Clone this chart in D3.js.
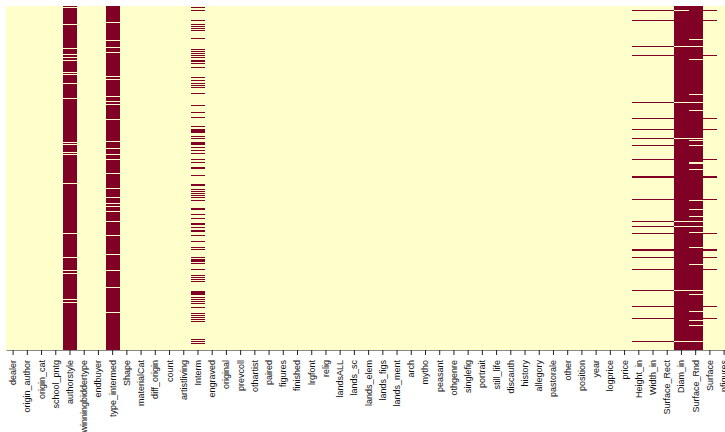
<!DOCTYPE html>
<html>
<head>
<meta charset="utf-8">
<script src="https://cdn.jsdelivr.net/npm/d3@7"></script>
<style>
  html, body { margin: 0; padding: 0; background: #ffffff; }
  svg { display: block; }
</style>
</head>
<body>
<svg id="chart" width="725" height="432"></svg>
<script>
// ---- data ----
const columns = ["dealer","origin_author","origin_cat","school_pntg","authorstyle","winningbiddertype",
  "endbuyer","type_intermed","Shape","materialCat","diff_origin","count","artistliving","Interm",
  "engraved","original","prevcoll","othartist","paired","figures","finished","lrgfont","relig",
  "landsALL","lands_sc","lands_elem","lands_figs","lands_ment","arch","mytho","peasant","othgenre",
  "singlefig","portrait","still_life","discauth","history","allegory","pastorale","other","position",
  "year","logprice","price","Height_in","Width_in","Surface_Rect","Diam_in","Surface_Rnd","Surface","nfigures"];

const nRows = 344;

// rows where the mostly-missing columns are present
const authorstylePresent = [1, 18, 42, 48, 51, 54, 66, 68, 77, 92, 136, 138, 146, 148, 177, 227, 251, 264, 267, 293, 296];
const typeIntermedPresent = [16, 34, 41, 46, 70, 73, 90, 95, 98, 113, 135, 142, 148, 153, 167, 182, 191, 197, 200, 205, 215, 229, 248, 264, 281, 306];
const diamPresent = [4, 40, 96, 132, 215, 220, 284, 335];
const rndPresent = [33, 40, 53, 88, 96, 104, 132, 134, 139, 156, 157, 163, 194, 203, 210, 215, 220, 226, 241, 258, 284, 288, 305, 314, 319, 335];

// rows where the mostly-present columns are missing
const intermMissing = [1, 4, 14, 18, 20, 22, 24, 32, 43, 45, 47, 49, 51, 54, 55, 57, 61, 71, 74, 77, 79, 81, 87, 99, 106, 111,
  120, 123, 124, 125, 126, 130, 132, 136, 137, 138, 141, 144, 147, 153, 156, 161, 162, 169, 178, 179, 183, 185, 187, 189, 191, 194,
  202, 203, 208, 212, 217, 218, 221, 224, 225, 229, 235, 241, 243, 251, 253, 254, 255, 257, 263, 269, 271, 273, 275,
  285, 286, 287, 288, 291, 293, 295, 297, 301, 307, 309, 311, 313, 315, 333, 335, 337];
const dimsMissing = [4, 14, 40, 49, 96, 112, 123, 132, 139, 153, 170, 171, 193, 215, 220, 227, 243, 244, 251, 263, 284, 300, 312, 335];
const surfaceMissing = [4, 14, 49, 112, 123, 153, 170, 171, 193, 227, 243, 244, 251, 263, 300, 312];

// ---- build missing-row lists per column ----
const allRows = d3.range(nRows);
const fromPresent = present => { const s = new Set(present); return allRows.filter(r => !s.has(r)); };
const missingByColumn = {
  authorstyle: fromPresent(authorstylePresent),
  type_intermed: fromPresent(typeIntermedPresent),
  Interm: intermMissing,
  Height_in: dimsMissing,
  Width_in: dimsMissing,
  Surface_Rect: dimsMissing,
  Diam_in: fromPresent(diamPresent),
  Surface_Rnd: fromPresent(rndPresent),
  Surface: surfaceMissing
};

// consecutive runs -> cells
const cells = [];
columns.forEach(col => {
  const rows = (missingByColumn[col] || []).slice().sort((a, b) => a - b);
  let start = null, prev = null;
  rows.forEach(r => {
    if (start === null) { start = r; prev = r; }
    else if (r === prev + 1) { prev = r; }
    else { cells.push({ col, start, end: prev + 1 }); start = r; prev = r; }
  });
  if (start !== null) cells.push({ col, start, end: prev + 1 });
});

// ---- drawing ----
const svg = d3.select("#chart");
const plotLeft = 6, plotTop = 6, plotBottom = 350;
const colW = 14.22;

const x = d3.scaleBand().domain(columns).range([plotLeft, plotLeft + colW * columns.length]).padding(0);
const y = d3.scaleLinear().domain([0, nRows]).range([plotTop, plotBottom]);
const color = d3.scaleOrdinal().domain([0, 1]).range(["#ffffcc", "#800026"]);

svg.append("rect")
  .attr("x", x.range()[0]).attr("y", y(0))
  .attr("width", x.range()[1] - x.range()[0]).attr("height", y(nRows) - y(0))
  .attr("fill", color(0));

svg.append("g").attr("shape-rendering", "crispEdges")
  .selectAll("rect").data(cells).join("rect")
  .attr("x", d => x(d.col))
  .attr("y", d => y(d.start))
  .attr("width", x.bandwidth())
  .attr("height", d => y(d.end) - y(d.start))
  .attr("fill", color(1));

const axis = svg.append("g")
  .attr("transform", `translate(0,${plotBottom})`)
  .call(d3.axisBottom(x).tickSize(5).tickSizeOuter(0).tickPadding(4));

axis.select(".domain").attr("stroke", "#888").attr("stroke-width", 1);
axis.selectAll(".tick line").attr("stroke", "#222").attr("stroke-width", 1);
axis.selectAll(".tick text")
  .attr("font-family", "'Liberation Sans', Arial, sans-serif")
  .attr("font-size", "9px")
  .attr("fill", "#111")
  .attr("transform", "rotate(-90)")
  .attr("text-anchor", "end")
  .attr("x", -10)
  .attr("y", 0)
  .attr("dy", "0.33em");
</script>
</body>
</html>
